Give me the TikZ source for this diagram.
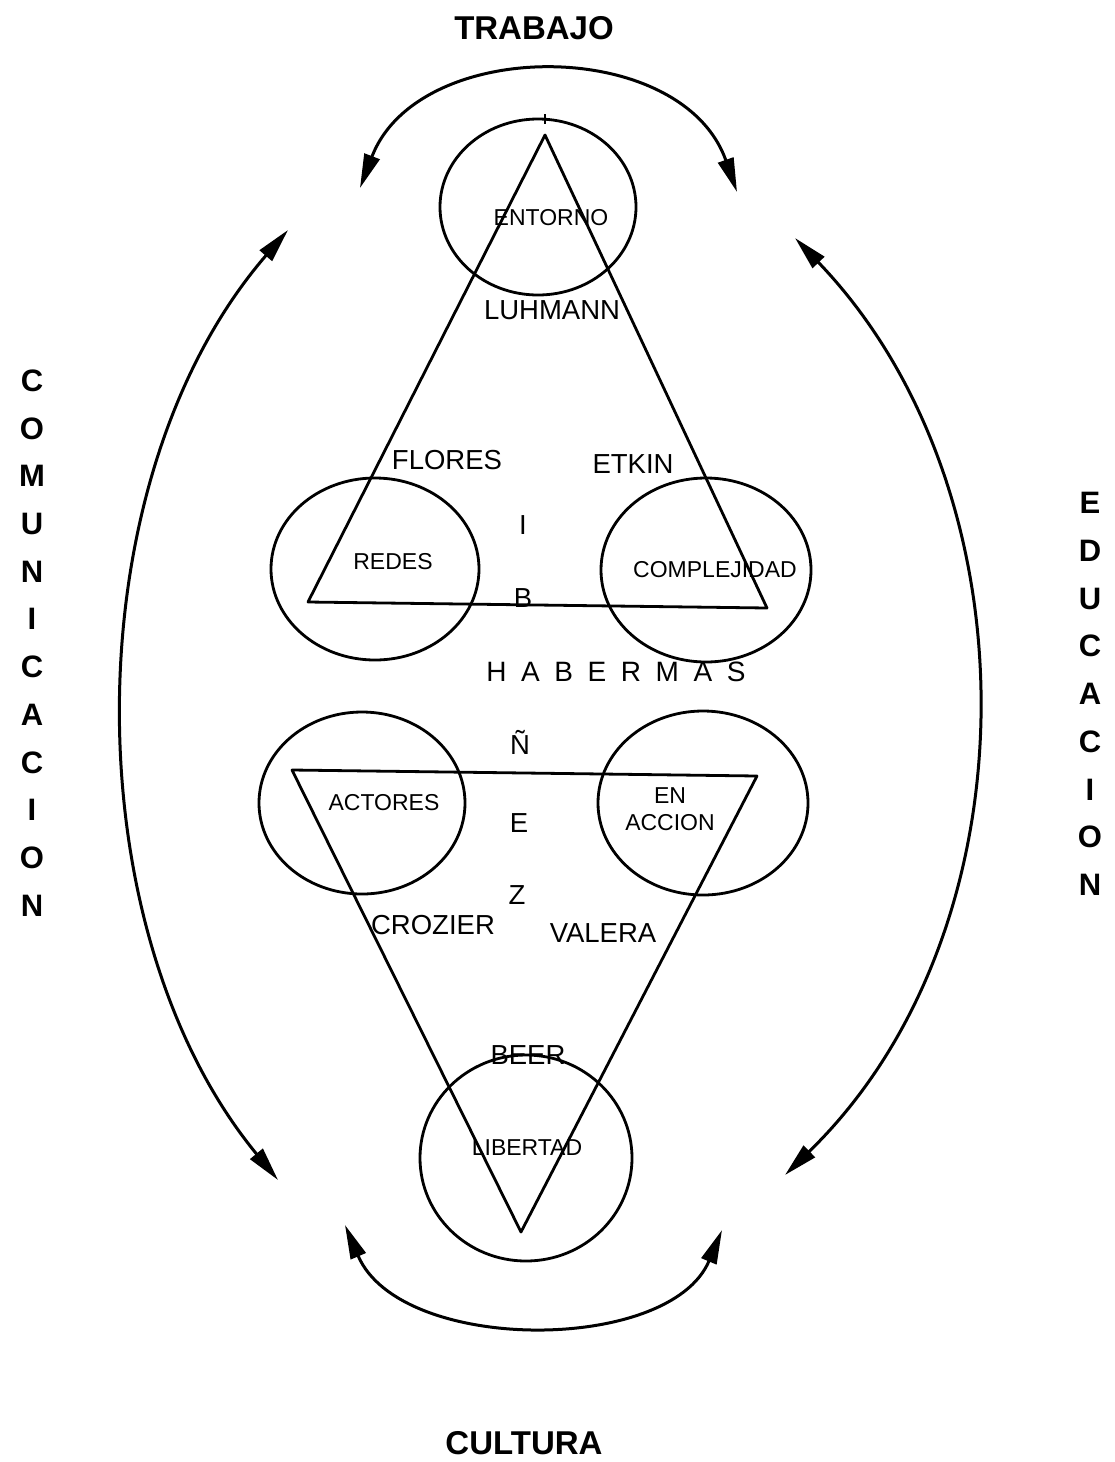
\documentclass[tikz,border=0pt]{standalone}
\usepackage{fontspec}
\setmainfont{Liberation Sans}
\usetikzlibrary{arrows.meta}
\tikzset{
  ln/.style={line width=2.8pt, line join=round},
  arc/.style={line width=3pt, {Triangle[length=34pt,width=16pt]}-{Triangle[length=34pt,width=16pt]}},
  big/.style={font=\fontsize{33}{36}\selectfont\bfseries, inner sep=0pt},
  vert/.style={font=\fontsize{31}{47.7}\selectfont\bfseries, align=center, inner sep=0pt},
  mid/.style={font=\fontsize{27.5}{30}\selectfont, inner sep=0pt},
  sml/.style={font=\fontsize{23}{27}\selectfont, inner sep=0pt, align=center},
}
\begin{document}
\begin{tikzpicture}[x=1pt,y=-1pt]
\useasboundingbox (0,0) rectangle (1114,1462);
% titles
\node[big] (trabajo) at (534,28) {TRABAJO};
\node[big] (cultura) at (524,1443) {CULTURA};
\node[vert] (comunicacion) at (32,643) {C\\O\\M\\U\\N\\I\\C\\A\\C\\I\\O\\N};
\node[vert] (educacion) at (1090,694) {E\\D\\U\\C\\A\\C\\I\\O\\N};
% arcs
\coordinate (t1) at (360,188); \coordinate (t2) at (737,192);
\coordinate (l1) at (288,230); \coordinate (l2) at (278,1180);
\coordinate (r1) at (795,238); \coordinate (r2) at (785,1175);
\coordinate (b1) at (345,1225); \coordinate (b2) at (722,1230);
\draw[arc] (t1) .. controls (418,36) and (682,36) .. (t2);
\draw[arc] (l1) .. controls (72,480) and (72,930) .. (l2);
\draw[arc] (r1) .. controls (1037,490) and (1037,930) .. (r2);
\draw[arc] (b1) .. controls (400,1354) and (670,1354) .. (b2);
% ellipses
\draw[ln] (538,207) ellipse [x radius=98, y radius=88];
\draw[ln] (375,569) ellipse [x radius=104, y radius=91];
\draw[ln] (706,570) ellipse [x radius=105, y radius=92];
\draw[ln] (362,803) ellipse [x radius=103, y radius=91];
\draw[ln] (703,803) ellipse [x radius=105, y radius=92];
\draw[ln] (526,1158) ellipse [x radius=106, y radius=103];
% triangles
\coordinate (ua) at (545,135); \coordinate (ul) at (308,602); \coordinate (ur) at (767,608);
\draw[ln] (ua) -- (ul) -- (ur) -- cycle;
\coordinate (dl) at (292,770); \coordinate (dr) at (757,776); \coordinate (db) at (521,1232);
\draw[ln] (dl) -- (dr) -- (db) -- cycle;
% stray tick
\coordinate (k1) at (545,114); \coordinate (k2) at (545,124);
\draw[line width=2pt] (k1) -- (k2);
% labels
\node[sml] (entorno) at (551,218) {ENTORNO};
\node[mid] (luhmann) at (552,310) {LUHMANN};
\node[mid] (flores) at (447,460) {FLORES};
\node[mid] (etkin) at (633,464) {ETKIN};
\node[mid] (i) at (523,525) {I};
\node[sml] (redes) at (393,562) {REDES};
\node[sml] (complejidad) at (715,570) {COMPLEJIDAD};
\node[mid] (b) at (523,598) {B};
\node[inner sep=0pt, font=\fontsize{28}{30}\selectfont\addfontfeature{LetterSpace=52}] (habermas) at (616,672) {HABERMAS};
\node[mid] (enie) at (520,742) {Ñ};
\node[sml] (actores) at (384,803) {ACTORES};
\node[sml] (enaccion) at (670,809) {EN\\ACCION};
\node[mid] (e) at (519,823) {E};
\node[mid] (z) at (517,895) {Z};
\node[mid] (crozier) at (433,925) {CROZIER};
\node[mid] (valera) at (603,933) {VALERA};
\node[mid] (beer) at (528,1055) {BEER};
\node[sml] (libertad) at (527,1148) {LIBERTAD};
\end{tikzpicture}
\end{document}
